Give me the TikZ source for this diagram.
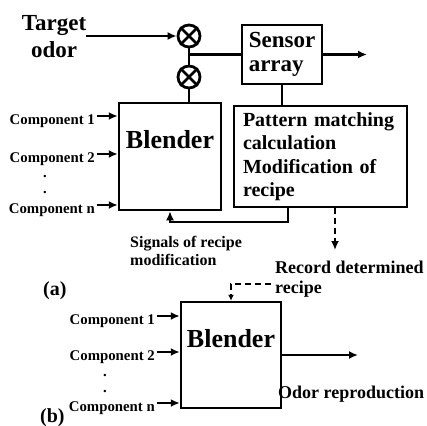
\documentclass[tikz,border=0pt]{standalone}
\usepackage{fontspec}
\setmainfont{Liberation Serif}
\usetikzlibrary{arrows.meta}
\tikzset{
  box/.style={draw, line width=2.5pt, inner sep=0pt},
  mixer/.style={draw, circle, line width=2.8pt, minimum size=22pt, inner sep=0pt},
  ln/.style={line width=2.4pt},
  arr/.style={ln, -{Latex[length=9pt,width=8pt]}},
  dasharr/.style={arr, line width=2.8pt, dash pattern=on 6pt off 4pt},
  comp/.style={font=\bfseries\fontsize{14.8}{16}\selectfont, inner sep=2pt, text height=16pt, text depth=0pt},
  dotlbl/.style={font=\bfseries\fontsize{14.8}{16}\selectfont, inner sep=0pt},
  big/.style={font=\bfseries\fontsize{26}{28}\selectfont, inner sep=0pt},
  lbl/.style={inner sep=0pt, align=left}
}
\begin{document}
\begin{tikzpicture}[x=1pt, y=-1pt]
  \useasboundingbox (0,0) rectangle (427,425);

  % (a) blending loop
  \node[lbl, align=center, anchor=north, font=\bfseries\fontsize{23}{27}\selectfont] (tgt) at (54,15) {Target\\odor};
  \node[mixer] (m1) at (189,36) {};
  \node[mixer] (m2) at (189,77) {};
  \draw[line width=2.8pt] (m1.north east) -- (m1.south west) (m1.north west) -- (m1.south east);
  \draw[line width=2.8pt] (m2.north east) -- (m2.south west) (m2.north west) -- (m2.south east);

  \node[box, align=left, inner xsep=6pt, minimum width=80, minimum height=59,
        font=\bfseries\fontsize{23}{24}\selectfont] (sens) at (282,54.5) {Sensor\\array};
  \node[box, minimum width=102, minimum height=107] (blend) at (170,156.5) {};
  \node[big, anchor=base] (blendtxt) at (170,148) {Blender};
  \node[box, align=left, text width=155, inner xsep=9pt, minimum height=101,
        font=\bfseries\fontsize{20}{23.5}\selectfont] (pat) at (320.5,156.5)
        {Pattern matching\\calculation\\Modification of\\recipe};

  \coordinate (out1) at (367,0);
  \coordinate (fb) at (288,222);
  \coordinate (rec) at (335,250);

  \draw[arr] (tgt.east |- m1.west) -- (m1.west);
  \draw[ln] (m1.south) -- (m2.north);
  \draw[ln] (m1.south |- sens.west) -- (sens.west);
  \draw[arr] (sens.east) -- (sens.east -| out1);
  \draw[ln] (m2.south) -- (m2.south |- blend.north);
  \draw[ln] (sens.south) -- (sens.south |- pat.north);
  \draw[arr] (fb |- pat.south) -- (fb) -| (blend.south);
  \draw[dasharr] (rec |- pat.south) -- (rec);

  \foreach \n/\y/\txt in {1/116/Component 1, 2/154/Component 2, 3/205/Component n} {
    \node[comp, anchor=east] (ca\n) at (97,\y) {\txt};
    \draw[arr] (ca\n.east) -- (ca\n.east -| blend.west);
  }
  \node[dotlbl] (da1) at (45,177) {.};
  \node[dotlbl] (da2) at (45,193) {.};

  \node[lbl, anchor=north west, font=\bfseries\fontsize{16}{18}\selectfont] (sig) at (130,236)
        {Signals of recipe\\modification};
  \node[lbl, anchor=north west, font=\bfseries\fontsize{18}{20}\selectfont] (rtxt) at (275,260.5)
        {Record determined\\recipe};
  \node[lbl, anchor=base west, font=\bfseries\fontsize{20}{22}\selectfont] (la) at (43,295) {(a)};

  % (b) reproduction
  \node[box, minimum width=100, minimum height=106] (blend2) at (231,355) {};
  \node[big, anchor=base] (blend2txt) at (231,347) {Blender};
  \coordinate (dk) at (271,284);
  \coordinate (out2) at (358,0);
  \draw[dasharr, -{Latex[length=6pt,width=6pt]}] (dk) -| (blend2.north);
  \draw[arr] (blend2.east) -- (blend2.east -| out2);

  \foreach \n/\y/\txt in {1/316/Component 1, 2/352/Component 2, 3/403/Component n} {
    \node[comp, anchor=east] (cb\n) at (157,\y) {\txt};
    \draw[arr] (cb\n.east) -- (cb\n.east -| blend2.west);
  }
  \node[dotlbl] (db1) at (105,376) {.};
  \node[dotlbl] (db2) at (105,392) {.};

  \node[lbl, anchor=base west, font=\bfseries\fontsize{18}{20}\selectfont] (odor) at (278,398) {Odor reproduction};
  \node[lbl, anchor=base west, font=\bfseries\fontsize{20}{22}\selectfont] (lb) at (40,422) {(b)};
\end{tikzpicture}
\end{document}
